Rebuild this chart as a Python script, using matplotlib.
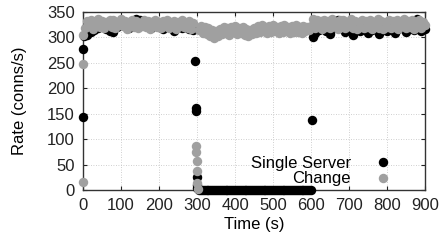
import numpy as np
import matplotlib
matplotlib.use('Agg')
import matplotlib.pyplot as plt

plt.rcParams['font.family'] = ['Liberation Sans', 'DejaVu Sans']
plt.rcParams['font.size'] = 12

# Single Server (black)
ss_t_a = [0, 0, 3] + list(range(10, 291, 10))
ss_v_a = [143, 278, 302,
          305, 311, 314, 318, 322, 316, 312, 310, 320, 325,
          322, 318, 332, 337, 334, 330, 320, 318, 324, 320,
          316, 322, 320, 312, 322, 318, 320, 316, 314]
ss_t_b = [296, 297, 298, 299, 300, 301] + list(range(305, 601, 5))
ss_v_b = [253, 161, 155, 25, 10, 3,
          0, 0, 0, 0, 0, 0, 0, 0, 0, 0, 0, 0, 0, 0, 0, 0, 0, 0, 0, 0,
          0, 0, 0, 0, 0, 0, 0, 0, 0, 0, 0, 0, 0, 0, 0, 0, 0, 0, 0, 0,
          0, 0, 0, 0, 0, 0, 0, 0, 0, 0, 0, 0, 0, 0, 0, 0, 0, 0, 0, 0]
ss_t_c = [602, 605] + list(range(610, 901, 10))
ss_v_c = [137, 300,
          308, 315, 320, 312, 306, 318, 335, 322, 310, 316,
          305, 318, 312, 320, 308, 315, 322, 306, 318, 312,
          320, 308, 316, 322, 310, 318, 314, 336, 312, 316]

# Change (gray)
ch_t_a = [0, 0, 0] + list(range(5, 291, 5))
ch_v_a = [15, 247, 304,
          318, 332, 322, 335, 316, 330, 324, 336, 320, 333,
          318, 331, 326, 335, 321, 334, 319, 330, 325, 336,
          322, 333, 317, 331, 324, 334, 320, 332, 318, 329,
          323, 335, 321, 333, 316, 330, 325, 334, 320, 331,
          318, 332, 322, 335, 319, 330, 324, 333, 317, 331,
          322, 334, 320, 329, 318, 332, 316, 328]
ch_t_b = [297, 298, 299, 300, 301, 302] + list(range(305, 596, 5))
ch_v_b = [75, 86, 58, 37, 14, 2,
          314, 322, 308, 320, 306, 318, 302, 314, 298, 312,
          302, 316, 306, 320, 308, 318, 304, 320, 310, 322,
          306, 318, 308, 320, 304, 316, 302, 314, 306, 318,
          308, 322, 310, 324, 312, 320, 308, 322, 310, 324,
          312, 320, 308, 322, 310, 324, 312, 320, 309, 322,
          311, 324, 310, 320, 308, 322, 312, 320, 314]
ch_t_c = list(range(600, 901, 5))
ch_v_c = [322, 336, 318, 334, 320, 332, 316, 335, 321, 333,
          318, 336, 322, 331, 317, 334, 320, 335, 319, 330,
          323, 336, 318, 333, 316, 331, 321, 335, 318, 332,
          320, 334, 317, 330, 322, 336, 318, 333, 316, 331,
          320, 335, 318, 332, 321, 334, 317, 330, 322, 336,
          318, 333, 320, 335, 316, 331, 321, 334, 319, 330,
          324]

ss_t = ss_t_a + ss_t_b + ss_t_c
ss_v = ss_v_a + ss_v_b + ss_v_c
ch_t = ch_t_a + ch_t_b + ch_t_c
ch_v = ch_v_a + ch_v_b + ch_v_c

fig = plt.figure(figsize=(4.4, 2.41), dpi=100)
ax = fig.add_axes([83/440, 1-190/241, (425-83)/440, (190-12)/241])

ax.plot(ss_t, ss_v, 'o', c='black', ms=6.8, mew=0, clip_on=False, label='Single Server', zorder=3)
ax.plot(ch_t, ch_v, 'o', c='#a0a0a0', ms=6.8, mew=0, clip_on=False, label='Change', zorder=4)

ax.set_xlim(0, 900)
ax.set_ylim(0, 350)
ax.set_xticks(np.arange(0, 901, 100))
ax.set_yticks(np.arange(0, 351, 50))
ax.tick_params(direction='in', top=True, right=True, length=3, width=0.8, pad=6, colors='#222222')
ax.grid(True, linestyle=(0, (1, 2)), color='#c0c0c0', linewidth=0.6)
ax.set_axisbelow(True)
for s in ax.spines.values():
    s.set_color('#333333')
    s.set_linewidth(1)

ax.set_xlabel('Time (s)', labelpad=3)
ax.set_ylabel('Rate (conns/s)', labelpad=14)

ax.legend(loc='lower right', bbox_to_anchor=(0.935, -0.045), frameon=False, markerfirst=False,
          handlelength=1.0, handletextpad=1.4, labelspacing=0.05, borderpad=0.2, fontsize=12)

fig.savefig('out.png', dpi=100)
